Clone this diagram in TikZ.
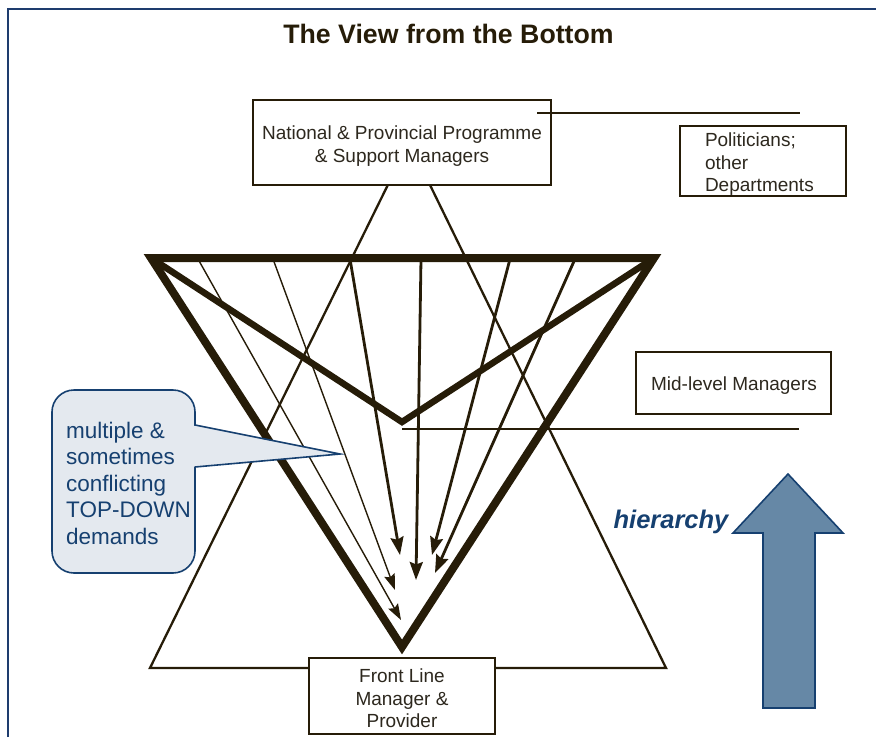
\documentclass[tikz,border=0pt]{standalone}
\usepackage{fontspec}
\setmainfont{Liberation Sans}
\usetikzlibrary{arrows.meta}
\definecolor{dk}{RGB}{38,28,8}
\definecolor{txt}{RGB}{45,40,30}
\definecolor{navy}{RGB}{22,64,112}
\definecolor{callfill}{RGB}{228,233,239}
\definecolor{arrfill}{RGB}{102,136,166}
\definecolor{framec}{RGB}{30,60,110}
\begin{document}
\begin{tikzpicture}[x=1pt,y=-1pt,
  box/.style={draw=dk,line width=1.6pt,fill=white,inner sep=0pt},
  boxtext/.style={text=txt,font=\fontsize{19}{22.5}\selectfont,align=center,inner sep=0pt},
  conn/.style={draw=dk,line width=2.8pt},
  thintri/.style={draw=dk,line width=2.3pt,line join=miter},
  thicktri/.style={draw=dk,line width=8pt,line join=miter,miter limit=20},
  vee/.style={draw=dk,line width=6.5pt,line join=miter,miter limit=20},
  bigarr/.style={draw=dk,line width=2.8pt,-{Stealth[length=18pt,width=13pt,inset=2.5pt]}},
  smallarr/.style={draw=dk,line width=1.4pt,-{Stealth[length=16pt,width=11pt,inset=2.5pt]}},
  calloutshape/.style={draw=navy,line width=1.6pt,fill=callfill},
  framestyle/.style={draw=framec,line width=1.6pt}
]
\useasboundingbox (0,0) rectangle (876,737);
\draw[framestyle] (8,737) -- (8,9) -- (876,9);

\node[font=\fontsize{26.7}{30}\selectfont\bfseries,text=dk,anchor=base] (title) at (448.5,43) {The View from the Bottom};

% thin upright triangle
\coordinate (apex) at (409,142);
\coordinate (bl) at (150,668);
\coordinate (br) at (666,668);
\draw[thintri] (apex) -- (bl) -- (br) -- cycle;

% thick inverted triangle and V
\coordinate (tl) at (151,258);
\coordinate (tr) at (654,258);
\coordinate (tb) at (402,647);
\coordinate (vb) at (402,422);
\draw[vee] (tl) -- (vb) -- (tr);
\draw[thicktri] (tl) -- (tr) -- (tb) -- cycle;

% arrows
\coordinate (s1) at (198,259); \coordinate (e1) at (401,620);
\coordinate (s2) at (273,259); \coordinate (e2) at (395,590);
\coordinate (s3) at (350,259); \coordinate (e3) at (400,555);
\coordinate (s4) at (421,259); \coordinate (e4) at (416,580);
\coordinate (s5) at (510,259); \coordinate (e5) at (432,555);
\coordinate (s6) at (575,259); \coordinate (e6) at (435,573);
\draw[smallarr] (s1) -- (e1);
\draw[smallarr] (s2) -- (e2);
\draw[bigarr] (s3) -- (e3);
\draw[bigarr] (s4) -- (e4);
\draw[bigarr] (s5) -- (e5);
\draw[bigarr] (s6) -- (e6);

% boxes
\node[box,minimum width=298pt,minimum height=85pt] (nat) at (402,142.5) {};
\node[boxtext] (natt) at (402,146) {National \& Provincial Programme\\\& Support Managers};
\node[box,minimum width=166pt,minimum height=70pt] (pol) at (763,161) {};
\node[boxtext,text width=116pt,align=left] (polt) at (763,164.5) {Politicians;\\other\\Departments};
\node[box,minimum width=195pt,minimum height=62pt] (mid) at (733.5,383) {};
\node[boxtext] (midt) at (734,386) {Mid-level Managers};
\node[box,minimum width=186pt,minimum height=76pt] (front) at (402,696) {};
\node[boxtext] (frontt) at (402,698.5) {Front Line\\Manager \&\\Provider};

% level lines
\coordinate (l1a) at (537,113); \coordinate (l1b) at (800,113);
\draw[conn] (l1a) -- (l1b);
\coordinate (l2a) at (402,429); \coordinate (l2b) at (799,429);
\draw[conn] (l2a) -- (l2b);

% callout
\draw[calloutshape,rounded corners=22pt] (52,390) rectangle (195,573);
\fill[callfill] (190,425) -- (340,454) -- (190,467) -- cycle;
\coordinate (cp1) at (195,425); \coordinate (ctip) at (340,454); \coordinate (cp2) at (195,467);
\draw[draw=navy,line width=1.6pt,line join=miter] (cp1) -- (ctip) -- (cp2);
\node[anchor=west,align=left,inner sep=0pt,text=navy,font=\fontsize{22.5}{26.5}\selectfont] (ctext) at (66,483)
  {multiple \&\\sometimes\\conflicting\\TOP-DOWN\\demands};

% hierarchy arrow
\draw[draw=navy,line width=1.6pt,fill=arrfill,line join=miter] (763,708) -- (763,533) -- (733,533) -- (788,474) -- (843,533) -- (815,533) -- (815,708) -- cycle;
\node[text=navy,font=\fontsize{25.5}{30}\selectfont\bfseries\itshape] (hier) at (671,522) {hierarchy};
\end{tikzpicture}
\end{document}
